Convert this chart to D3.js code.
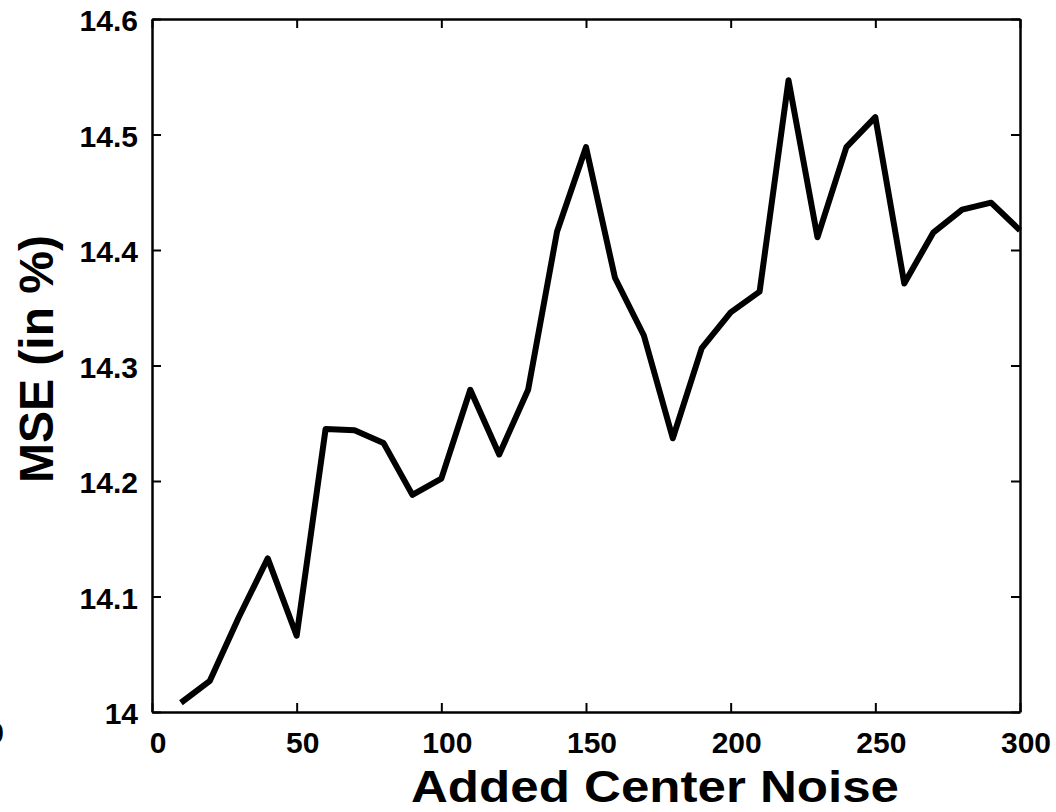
<!DOCTYPE html>
<html lang="en">
<head>
    <meta charset="UTF-8">
    <title>MSE vs Added Center Noise</title>
    <script src="https://d3js.org/d3.v7.min.js"></script>
    <style>
        body {
            margin: 0;
            overflow: hidden;
            background: #fff;
            font-family: Arial, "Liberation Sans", sans-serif;
        }
        .tick-label {
            font-size: 30px;
            font-weight: bold;
            fill: #000;
        }
        .axis-title {
            font-weight: bold;
            fill: #000;
        }
    </style>
</head>
<body>
    <svg width="1056" height="812"></svg>
    <script>
        // data
        const noise = [10, 20, 30, 40, 50, 60, 70, 80, 90, 100,
                       110, 120, 130, 140, 150, 160, 170, 180, 190, 200,
                       210, 220, 230, 240, 250, 260, 270, 280, 290, 300];
        const mse = [14.008, 14.027, 14.082, 14.133, 14.066, 14.245, 14.244, 14.233, 14.188, 14.202,
                     14.279, 14.223, 14.279, 14.416, 14.489, 14.376, 14.326, 14.237, 14.315, 14.346,
                     14.364, 14.547, 14.411, 14.489, 14.515, 14.371, 14.415, 14.435, 14.441, 14.417];
        const xTicks = [0, 50, 100, 150, 200, 250, 300];
        const yTicks = [14, 14.1, 14.2, 14.3, 14.4, 14.5, 14.6];

        const svg = d3.select("svg");
        const plotL = 152, plotR = 1020, plotT = 19, plotB = 712;
        const tickLen = 9;

        const x = d3.scaleLinear().domain([0, 300]).range([plotL, plotR]);
        const y = d3.scaleLinear().domain([14, 14.6]).range([plotB, plotT]);

        const yFmt = d => d === 14 ? "14" : d3.format(".1f")(d);

        // data line (drawn first, box on top)
        const line = d3.line()
            .x((d, i) => x(noise[i]))
            .y(d => y(d));

        svg.append("path")
            .datum(mse)
            .attr("fill", "none")
            .attr("stroke", "#000")
            .attr("stroke-width", 6)
            .attr("stroke-linejoin", "round")
            .attr("d", line);

        // axes with inward ticks on all four sides
        const bottomAxis = d3.axisBottom(x).tickValues(xTicks).tickSizeInner(-tickLen).tickSizeOuter(0).tickFormat("");
        const topAxis = d3.axisTop(x).tickValues(xTicks).tickSizeInner(-tickLen).tickSizeOuter(0).tickFormat("");
        const leftAxis = d3.axisLeft(y).tickValues(yTicks).tickSizeInner(-tickLen).tickSizeOuter(0).tickFormat("");
        const rightAxis = d3.axisRight(y).tickValues(yTicks).tickSizeInner(-tickLen).tickSizeOuter(0).tickFormat("");

        const axes = [
            [bottomAxis, `translate(0,${plotB})`],
            [topAxis, `translate(0,${plotT})`],
            [leftAxis, `translate(${plotL},0)`],
            [rightAxis, `translate(${plotR},0)`]
        ];
        axes.forEach(([ax, tr]) => {
            const g = svg.append("g").attr("transform", tr).call(ax);
            g.selectAll(".domain").attr("stroke", "#000").attr("stroke-width", 2.5);
            g.selectAll(".tick line").attr("stroke", "#000").attr("stroke-width", 2);
        });

        // tick labels
        svg.append("g").selectAll("text")
            .data(xTicks)
            .join("text")
            .attr("class", "tick-label")
            .attr("x", d => x(d) + 6)
            .attr("y", 753)
            .attr("text-anchor", "middle")
            .text(d => d);

        svg.append("g").selectAll("text")
            .data(yTicks)
            .join("text")
            .attr("class", "tick-label")
            .attr("x", 138)
            .attr("y", d => y(d) + 12)
            .attr("text-anchor", "end")
            .text(yFmt);

        // stray clipped label at far left edge
        svg.append("text")
            .attr("class", "tick-label")
            .attr("x", 4)
            .attr("y", 743)
            .attr("text-anchor", "end")
            .text("0");

        // axis titles (x title is drawn wide in the original)
        svg.append("text")
            .attr("class", "axis-title")
            .style("font-size", "44px")
            .attr("x", 411)
            .attr("y", 802)
            .attr("textLength", 488)
            .attr("lengthAdjust", "spacingAndGlyphs")
            .text("Added Center Noise");

        svg.append("text")
            .attr("class", "axis-title")
            .style("font-size", "48px")
            .attr("transform", "translate(53,359) rotate(-90)")
            .attr("text-anchor", "middle")
            .text("MSE (in %)");
    </script>
</body>
</html>
